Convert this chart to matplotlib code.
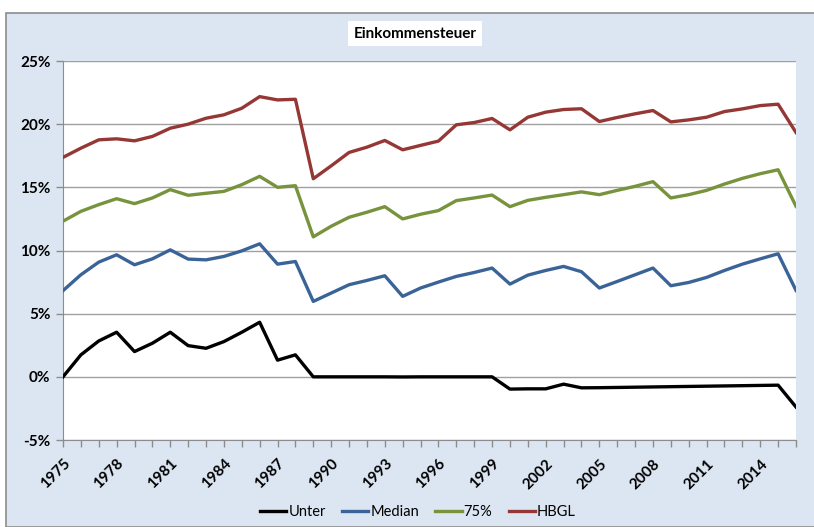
import matplotlib.pyplot as plt
import matplotlib.patches as patches
import numpy as np

# Jahre 1975 - 2016
years = list(range(1975, 2017))

unter = [0.0, 1.74, 2.84, 3.53, 2.0, 2.66, 3.53, 2.47, 2.26, 2.79,
         3.53, 4.32, 1.32, 1.74, 0.0, 0.0, 0.0, 0.0, 0.0, -0.01,
         0.0, 0.0, 0.0, 0.0, 0.0, -0.97, -0.95, -0.95, -0.58, -0.87,
         -0.86, -0.84, -0.82, -0.80, -0.78, -0.76, -0.74, -0.72, -0.70, -0.68,
         -0.66, -2.39]
median = [6.82, 8.08, 9.08, 9.66, 8.87, 9.34, 10.05, 9.32, 9.26, 9.53,
          9.97, 10.53, 8.92, 9.13, 5.97, 6.63, 7.29, 7.63, 8.0, 6.37,
          7.03, 7.5, 7.95, 8.26, 8.61, 7.34, 8.05, 8.42, 8.74, 8.32,
          7.03, 7.55, 8.08, 8.61, 7.21, 7.47, 7.87, 8.42, 8.92, 9.34,
          9.74, 6.84]
p75 = [12.32, 13.1, 13.63, 14.1, 13.71, 14.16, 14.82, 14.37, 14.53, 14.68,
       15.21, 15.87, 15.0, 15.13, 11.08, 11.92, 12.63, 13.03, 13.47, 12.5,
       12.87, 13.16, 13.95, 14.16, 14.39, 13.47, 13.97, 14.21, 14.42, 14.64,
       14.42, 14.76, 15.08, 15.45, 14.16, 14.42, 14.76, 15.26, 15.71, 16.08,
       16.39, 13.5]
hbgl = [17.37, 18.1, 18.76, 18.84, 18.68, 19.03, 19.68, 20.0, 20.47, 20.74,
        21.26, 22.18, 21.92, 21.97, 15.68, 16.7, 17.76, 18.18, 18.71, 17.97,
        18.32, 18.66, 19.95, 20.13, 20.45, 19.55, 20.55, 20.95, 21.16, 21.22,
        20.21, 20.53, 20.82, 21.08, 20.18, 20.34, 20.55, 21.0, 21.21, 21.47,
        21.58, 19.34]

names = ['Unter', 'Median', '75%', 'HBGL']
colors = ['#000000', '#3A6497', '#77933C', '#953735']

plt.rcParams['font.family'] = ['Lato', 'DejaVu Sans']

fig = plt.figure(figsize=(8.14, 5.27), dpi=100, facecolor='white')
# hellblauer Diagrammbereich mit grauem Rand
fig.patches.append(patches.Rectangle((6 / 814, 0), 1, 1 - 13 / 527, transform=fig.transFigure,
                                     facecolor='#DCE6F2', edgecolor='#8C8C8C', linewidth=1.2, zorder=-5))

ax = fig.add_axes([63 / 814, 1 - 440 / 527, (796 - 63) / 814, (440 - 61) / 527])
ax.set_zorder(2)
ax.set_facecolor('white')

for vals, name, c in zip([unter, median, p75, hbgl], names, colors):
    ax.plot(years, vals, color=c, linewidth=2.4, label=name, zorder=3)

ax.set_xlim(1975, 2016)
ax.set_ylim(-5, 25)
ax.set_yticks(np.arange(-5, 26, 5))
ax.set_yticklabels([f'{v}%' for v in range(-5, 26, 5)], fontsize=11, fontweight='bold')
ax.set_xticks(years)
ax.set_xticklabels([str(y) if (y - 1975) % 3 == 0 else '' for y in years],
                   rotation=45, ha='right', rotation_mode='anchor', fontsize=11, fontweight='bold')
ax.tick_params(axis='both', direction='out', length=5, color='#8C8C8C', width=1, pad=4)
ax.tick_params(axis='x', pad=7)

ax.grid(axis='y', color='#A0A0A0', linewidth=1)
ax.set_axisbelow(True)
for s in ['top', 'right']:
    ax.spines[s].set_visible(False)
ax.spines['left'].set_color('#8C8C8C')
ax.spines['bottom'].set_color('#8C8C8C')

fig.text(415 / 814, 1 - 34 / 527, 'Einkommensteuer', ha='center', va='center', fontsize=11, fontweight='bold',
         bbox=dict(facecolor='white', edgecolor='none', pad=4))

fig.legend(loc='center', bbox_to_anchor=(418 / 814, 1 - 512 / 527), ncol=4, frameon=False,
           fontsize=10.5, handlelength=1.8, handletextpad=0.15, columnspacing=1.1)

plt.savefig('out.png', dpi=100, facecolor=fig.get_facecolor())
